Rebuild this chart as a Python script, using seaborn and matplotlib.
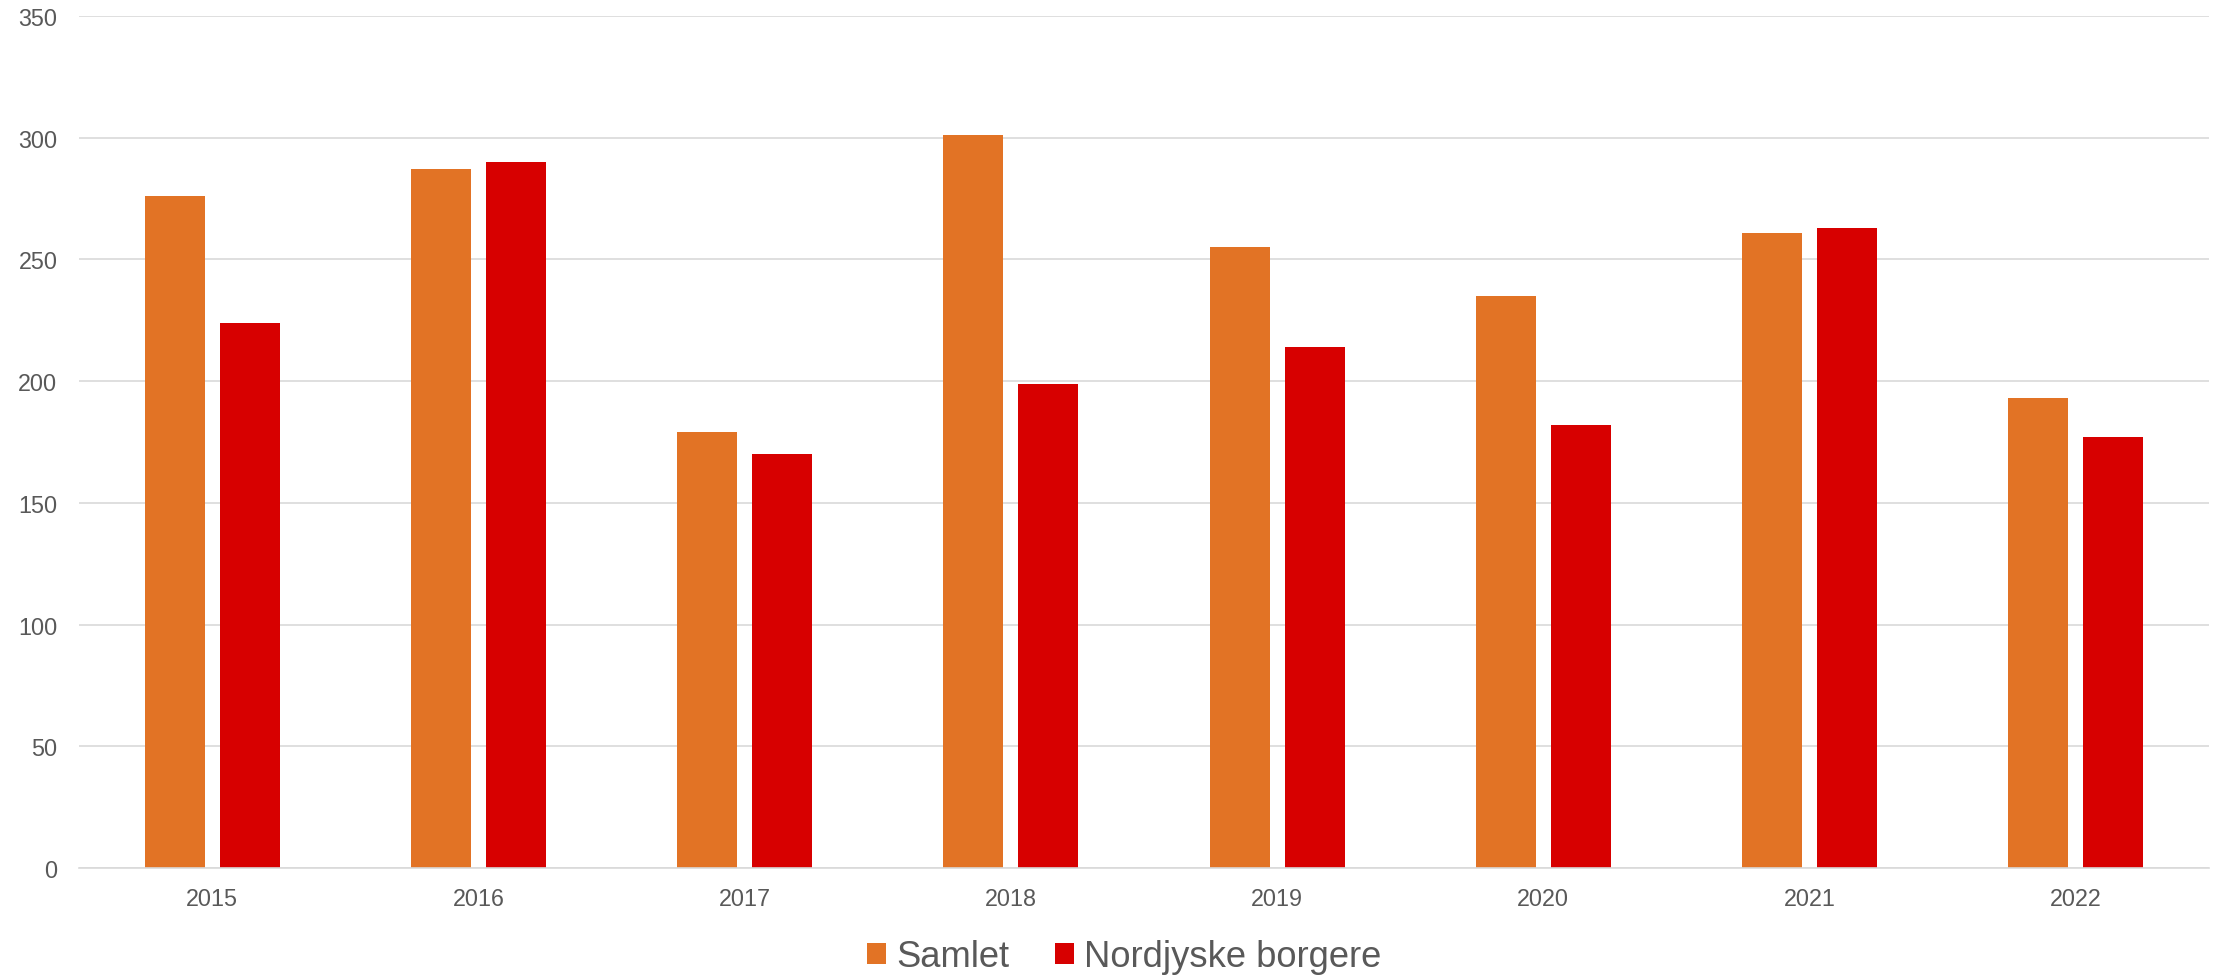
import matplotlib
matplotlib.use("Agg")
import matplotlib.pyplot as plt
import seaborn as sns
import pandas as pd
from matplotlib.patches import Patch

years = ["2015", "2016", "2017", "2018", "2019", "2020", "2021", "2022"]
samlet = [276, 287, 179, 301, 255, 235, 261, 193]
nordjyske = [224, 290, 170, 199, 214, 182, 263, 177]
series_names = ["Samlet", "Nordjyske borgere"]
colors = ["#E27325", "#D70000"]
yticks = [0, 50, 100, 150, 200, 250, 300, 350]

df = pd.DataFrame({
    "year": years * 2,
    "value": samlet + nordjyske,
    "series": [series_names[0]] * len(years) + [series_names[1]] * len(years),
})

sns.set_theme(style="white")
plt.rcParams["font.family"] = ["Liberation Sans", "DejaVu Sans"]

fig = plt.figure(figsize=(22.19, 9.79), dpi=100)
ax = fig.add_axes([79 / 2219, 1 - 869 / 979, (2209 - 79) / 2219, (869 - 17) / 979])

sns.barplot(data=df, x="year", y="value", hue="series", palette=colors,
            width=0.563, gap=0.2, ax=ax, legend=False, saturation=1,
            linewidth=0, edgecolor="none")

ax.set_xlim(-0.5, len(years) - 0.5)
ax.set_ylim(0, 350)
ax.set_yticks(yticks)
ax.set_yticklabels([str(v) for v in yticks])
ax.yaxis.grid(True, color="#D9D9D9", linewidth=1.2)
ax.xaxis.grid(False)
ax.set_axisbelow(True)
for s in ["top", "right", "left"]:
    ax.spines[s].set_visible(False)
ax.spines["bottom"].set_color("#D9D9D9")
ax.spines["bottom"].set_linewidth(1.2)
ax.set_xlabel("")
ax.set_ylabel("")
ax.tick_params(axis="y", length=0, pad=15.5, labelsize=16.8, labelcolor="#595959")
ax.tick_params(axis="x", length=0, pad=14, labelsize=16.8, labelcolor="#595959")

handles = [Patch(facecolor=c, edgecolor="none") for c in colors]
fig.legend(handles, series_names, loc="center",
           bbox_to_anchor=(1124.5 / 2219, 1 - 958 / 979),
           ncol=2, frameon=False, fontsize=26.2, labelcolor="#595959",
           handlelength=0.52, handleheight=0.52, handletextpad=0.28,
           columnspacing=1.25, borderpad=0)

fig.savefig("out.png", dpi=100)
